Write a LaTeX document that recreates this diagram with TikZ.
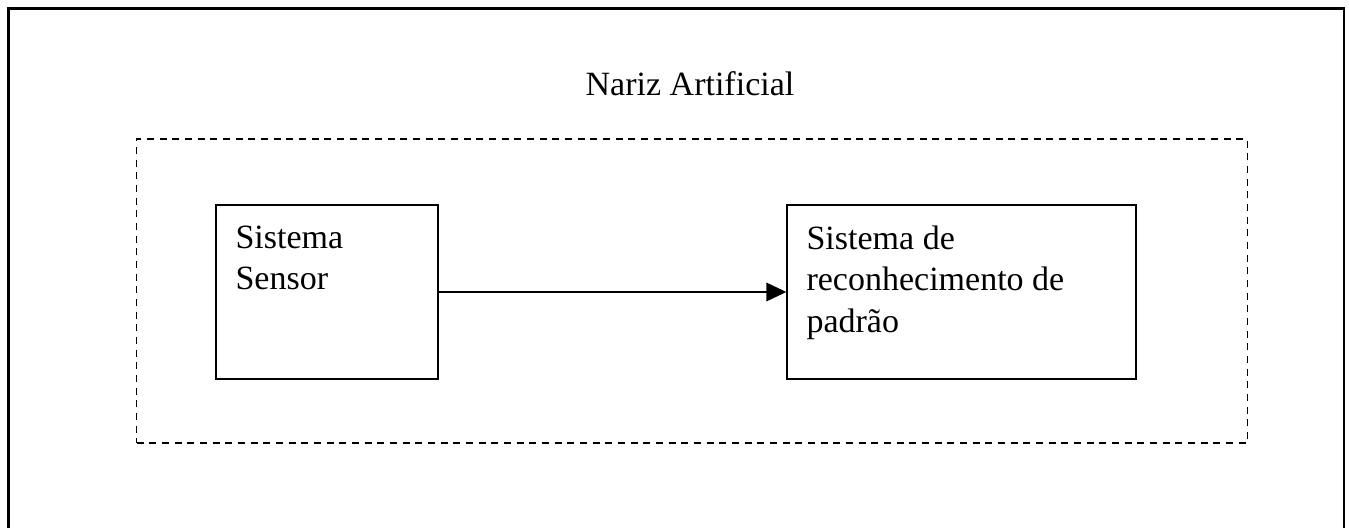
\documentclass[tikz,border=0pt]{standalone}
\usepackage{fontspec}
\setmainfont{Liberation Serif}
\usetikzlibrary{arrows.meta}
\begin{document}
\begin{tikzpicture}[x=0.75pt,y=-0.75pt,
  block/.style={draw,line width=1.05pt,rectangle,minimum height=130.5pt,inner sep=0pt},
  label/.style={font=\fontsize{25.5pt}{31pt}\selectfont,inner sep=0pt,align=left},
  frame/.style={draw,line width=1.05pt,dash pattern=on 5.3pt off 4.2pt,rectangle,
    minimum width=833pt,minimum height=228pt,inner sep=0pt},
  flow/.style={line width=1.05pt,-{Triangle[length=15pt,width=14pt]}}]
  \useasboundingbox (0,0) rectangle (1349,528);
  % outer border, open at the bottom
  \coordinate (bl) at (8.5,540);
  \coordinate (tl) at (8.5,8.5);
  \coordinate (tr) at (1344,8.5);
  \coordinate (br) at (1344,540);
  \draw[line width=1.6pt] (bl) -- (tl) -- (tr) -- (br);
  % title
  \node[label,anchor=base] (title) at (690,95) {Nariz Artificial};
  % dashed enclosure
  \node[frame] (system) at (692,291) {};
  % the two subsystems
  \node[block,minimum width=166.5pt] (sensor) at (327,292) {};
  \node[block,minimum width=261.75pt] (pattern) at (961.5,292) {};
  \node[label,anchor=north west] (sensortext) at ([xshift=15pt,yshift=-16pt]sensor.north west) {Sistema\\Sensor};
  \node[label,anchor=north west] (patterntext) at ([xshift=15pt,yshift=-16pt]pattern.north west) {Sistema de\\reconhecimento de\\padrão};
  % signal flow
  \draw[flow] (sensor.east) -- (pattern.west);
\end{tikzpicture}
\end{document}
